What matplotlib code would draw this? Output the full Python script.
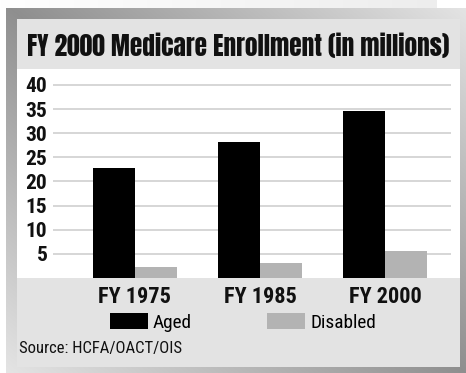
import numpy as np
import matplotlib
matplotlib.use('Agg')
import matplotlib.pyplot as plt
from matplotlib.patches import Rectangle

############################################
years = ['FY 1975', 'FY 1985', 'FY 2000']
aged = [22.7, 28.2, 34.6]
disabled = [2.2, 3.1, 5.6]
yticks = [5, 10, 15, 20, 25, 30, 35, 40]
title = 'FY 2000 Medicare Enrollment (in millions)'
source = 'Source: HCFA/OACT/OIS'
############################################

heavy = ['Anton', 'Oswald', 'DejaVu Sans']
narrow = ['Roboto Condensed', 'Archivo Narrow', 'DejaVu Sans']
plt.rcParams['font.family'] = narrow

W, H = 466, 373
fig = plt.figure(figsize=(W / 100, H / 100), dpi=100)
renderer = fig.canvas.get_renderer()


def size_for(s, width_px, **kw):
    # font size (pt) that makes the string width_px wide
    t = fig.text(0, 0, s, fontsize=20, **kw)
    wpx = t.get_window_extent(renderer).width
    t.remove()
    return 20 * width_px / wpx


# background frame with gradient, drawn in pixel coordinates
bg = fig.add_axes([0, 0, 1, 1])
bg.set_xlim(0, W)
bg.set_ylim(H, 0)
bg.axis('off')
u = np.linspace(0, 1, W)[None, :]
v = np.linspace(0, 1, H)[:, None]
shade = 0.56 + 0.34 * np.abs(u - v)
img = np.repeat(shade[:, :, None], 3, axis=2)
img[:8, :, :] = (1.0 - 0.07 * np.clip(u / 0.94, 0, 1))[:, :, None] * np.ones((8, 1, 1))
img[:8, 437:, :] = 1.0
img[8:, :6, :] = 1.0
bg.imshow(img, extent=[0, W, H, 0], aspect='auto', interpolation='bilinear')
bg.add_patch(Rectangle((17, 19), 443, 348, color='#e3e3e3', lw=0))
bg.add_patch(Rectangle((17, 69), 443, 209, color='white', lw=0))

fs_title = size_for(title, 420, family=heavy)
bg.text(238, 46, title, ha='center', va='center', fontsize=fs_title,
        family=heavy, color='#111111')
fs_src = size_for(source, 163)
bg.text(19, 348, source, ha='left', va='center', fontsize=fs_src, color='#111111')

# chart area
ax = fig.add_axes([53 / W, 1 - 278 / H, (451 - 53) / W, (278 - 69) / H])
ax.patch.set_alpha(0)
x = np.arange(len(years))
w = 0.336
b1 = ax.bar(x - w / 2, aged, w, color='black', label='Aged', zorder=3)
b2 = ax.bar(x + w / 2, disabled, w, color='#b3b3b3', label='Disabled', zorder=3)
ax.set_xlim(-0.656, 2.528)
ax.set_ylim(0, 43.3)
ax.set_yticks(yticks)
fs_y = size_for('40', 21.6, fontweight='bold')
ax.set_yticklabels([str(t) for t in yticks], fontsize=fs_y, fontweight='bold')
ax.set_xticks(x)
fs_x = size_for('FY 1975', 73, fontweight='bold')
ax.set_xticklabels(years, fontsize=fs_x, fontweight='bold')
ax.tick_params(axis='both', length=0, colors='#111111')
ax.tick_params(axis='y', pad=4)
ax.tick_params(axis='x', pad=6)
ax.yaxis.grid(True, color='#d3d3d3', lw=1.3, zorder=0)
for s in ax.spines.values():
    s.set_visible(False)

fs_leg = size_for('Disabled', 66)
em = fs_leg * 100 / 72
leg = ax.legend(handles=[b1, b2], ncol=2, frameon=False, fontsize=fs_leg,
                loc='upper left', bbox_to_anchor=(110 / W, 1 - 313 / H),
                bbox_transform=fig.transFigure, borderpad=0, borderaxespad=0,
                handlelength=38 / em, handleheight=17 / em, handletextpad=5 / em,
                columnspacing=75 / em)

plt.savefig('out.png', dpi=100)
